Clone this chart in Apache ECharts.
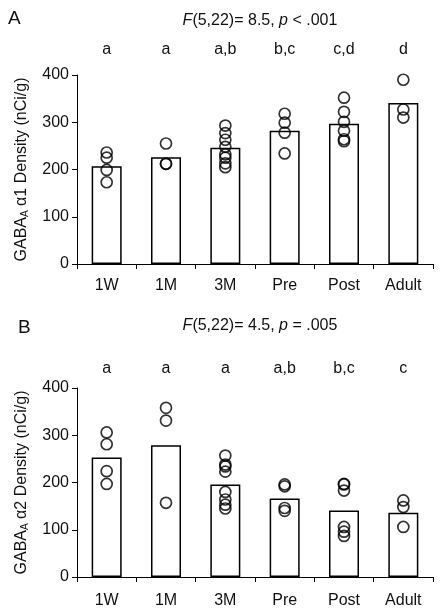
<!DOCTYPE html>
<html>
<head>
<meta charset="utf-8">
<script src="https://cdn.jsdelivr.net/npm/echarts@6/dist/echarts.min.js"></script>
<style>
html,body{margin:0;padding:0;background:#fff;}
#c{width:440px;height:615px;}
</style>
</head>
<body>
<div id="c"></div>
<script>
const categories = ['1W', '1M', '3M', 'Pre', 'Post', 'Adult'];
const yTicks = [0, 100, 200, 300, 400];

// Panel A: GABA_A alpha1
const lettersA = ['a', 'a', 'a,b', 'b,c', 'c,d', 'd'];
const meansA = [207, 226, 246, 282, 297, 341];
const pointsA = [
  [236, 225, 199, 173],
  [255, 212, 212],
  [293, 277, 263, 248, 232, 225, 213, 205],
  [318, 299, 278, 234],
  [352, 322, 301, 282, 264, 260],
  [390, 327, 310]
];

// Panel B: GABA_A alpha2
const lettersB = ['a', 'a', 'a', 'a,b', 'b,c', 'c'];
const meansB = [253, 279, 196, 166, 141, 136];
const pointsB = [
  [306, 281, 224, 197],
  [358, 331, 157],
  [257, 238, 234, 223, 180, 164, 153, 145],
  [196, 192, 146, 140],
  [197, 196, 183, 106, 96, 87],
  [162, 148, 106]
];

const FONT = '"Liberation Sans", Arial, Helvetica, sans-serif';
const TXT = '#111';
const FS = 16;

function flatPoints(pts) {
  const out = [];
  pts.forEach((arr, i) => arr.forEach(v => out.push([categories[i], v])));
  return out;
}

function yAxisFor(gi, sub) {
  return {
    type: 'value', gridIndex: gi, min: yTicks[0], max: yTicks[yTicks.length - 1], interval: 100,
    splitLine: { show: false },
    axisLine: { show: true, lineStyle: { color: '#000', width: 1 } },
    axisTick: { show: true, length: 5, lineStyle: { color: '#000', width: 1 } },
    axisLabel: { color: TXT, fontSize: FS, fontFamily: FONT, margin: 8 },
    name: 'GABA{sub|A} ' + sub + ' Density (nCi/g)',
    nameLocation: 'middle', nameGap: 47,
    nameTextStyle: {
      color: TXT, fontSize: FS, fontFamily: FONT,
      rich: { sub: { fontSize: 10, fontFamily: FONT, color: TXT, verticalAlign: 'bottom', padding: [7, 0, 0, 0] } }
    }
  };
}

function xAxisFor(gi, margin) {
  return {
    type: 'category', gridIndex: gi, data: categories, position: 'bottom',
    axisLine: { show: true, lineStyle: { color: '#000', width: 1 } },
    axisTick: { show: true, length: 5, inside: false, lineStyle: { color: '#000', width: 1 } },
    axisLabel: { color: TXT, fontSize: FS, fontFamily: FONT, margin: margin }
  };
}

function letterAxis(gi, letters, margin) {
  return {
    type: 'category', gridIndex: gi, data: letters, position: 'top',
    axisLine: { show: false }, axisTick: { show: false },
    axisLabel: { color: TXT, fontSize: FS, fontFamily: FONT, margin: margin }
  };
}

const barStyle = { color: '#fff', borderColor: '#000', borderWidth: 1.5 };
const dotStyle = { color: 'rgba(255,255,255,0)', borderColor: '#000', borderWidth: 1.7 };

const chart = echarts.init(document.getElementById('c'));
chart.setOption({
  backgroundColor: '#fff',
  animation: false,
  title: [
    { text: 'A', left: 3, top: 4, textStyle: { fontSize: 19, fontWeight: 'normal', color: TXT, fontFamily: FONT } },
    { text: '{i|F}(5,22)= 8.5, {i|p} < .001', left: 255, textAlign: 'center', top: 8,
      textStyle: { fontSize: FS, fontWeight: 'normal', color: TXT, fontFamily: FONT,
        rich: { i: { fontStyle: 'italic', fontSize: FS, color: TXT, fontFamily: FONT } } } },
    { text: 'B', left: 13, top: 313, textStyle: { fontSize: 19, fontWeight: 'normal', color: TXT, fontFamily: FONT } },
    { text: '{i|F}(5,22)= 4.5, {i|p} = .005', left: 255, textAlign: 'center', top: 313,
      textStyle: { fontSize: FS, fontWeight: 'normal', color: TXT, fontFamily: FONT,
        rich: { i: { fontStyle: 'italic', fontSize: FS, color: TXT, fontFamily: FONT } } } }
  ],
  grid: [
    { left: 77, right: 7, top: 75, height: 189 },
    { left: 77, right: 7, top: 388, height: 189 }
  ],
  xAxis: [
    xAxisFor(0, 14),
    xAxisFor(1, 16),
    letterAxis(0, lettersA, 17),
    letterAxis(1, lettersB, 11)
  ],
  yAxis: [
    yAxisFor(0, 'α1'),
    yAxisFor(1, 'α2')
  ],
  series: [
    { type: 'bar', xAxisIndex: 0, yAxisIndex: 0, data: meansA, barWidth: 30, itemStyle: barStyle, silent: true },
    { type: 'scatter', xAxisIndex: 0, yAxisIndex: 0, data: flatPoints(pointsA), symbol: 'circle', symbolSize: 11, itemStyle: dotStyle, z: 5 },
    { type: 'bar', xAxisIndex: 1, yAxisIndex: 1, data: meansB, barWidth: 30, itemStyle: barStyle, silent: true },
    { type: 'scatter', xAxisIndex: 1, yAxisIndex: 1, data: flatPoints(pointsB), symbol: 'circle', symbolSize: 11, itemStyle: dotStyle, z: 5 }
  ]
});
</script>
</body>
</html>
